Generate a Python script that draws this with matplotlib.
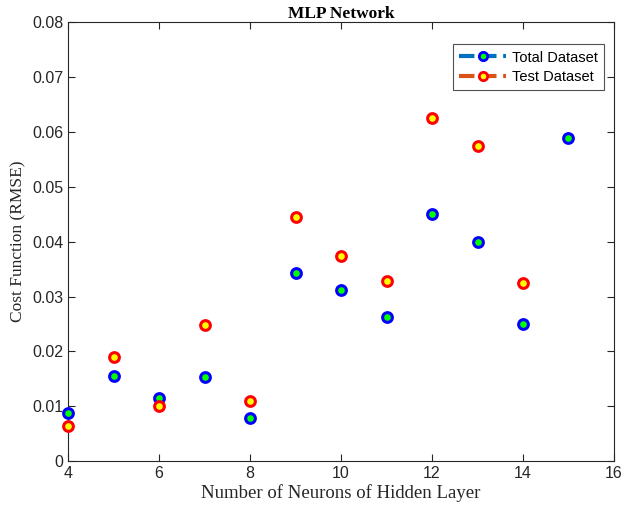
import matplotlib.pyplot as plt
from matplotlib.lines import Line2D

neurons = [4, 5, 6, 7, 8, 9, 10, 11, 12, 13, 14, 15]
total_rmse = [0.0087, 0.0155, 0.0115, 0.0153, 0.0078, 0.0343, 0.0311, 0.0262, 0.0451, 0.0400, 0.0250, 0.0589]
test_neurons = [4, 5, 6, 7, 8, 9, 10, 11, 12, 13, 14]
test_rmse = [0.0064, 0.0189, 0.0101, 0.0249, 0.0110, 0.0445, 0.0374, 0.0329, 0.0625, 0.0574, 0.0324]

xticks = [4, 6, 8, 10, 12, 14, 16]
yticks = [0, 0.01, 0.02, 0.03, 0.04, 0.05, 0.06, 0.07, 0.08]
ytick_labels = ['0', '0.01', '0.02', '0.03', '0.04', '0.05', '0.06', '0.07', '0.08']

fig = plt.figure(figsize=(6.31, 5.13), dpi=100)
ax = fig.add_axes([0.108, 0.101, 0.865, 0.856])

ax.plot(neurons, total_rmse, linestyle='none', marker='o', markersize=7, clip_on=False,
        markerfacecolor='#00ff00', markeredgecolor='#0000ff', markeredgewidth=2.2, zorder=3)
ax.plot(test_neurons, test_rmse, linestyle='none', marker='o', markersize=7, clip_on=False,
        markerfacecolor='#ffff00', markeredgecolor='#ff0000', markeredgewidth=2.2, zorder=3)

ax.set_xlim(4, 16)
ax.set_ylim(0, 0.08)
ax.set_xticks(xticks)
ax.set_yticks(yticks)
ax.set_yticklabels(ytick_labels)

axcol = '#262626'
for s in ax.spines.values():
    s.set_color(axcol)
    s.set_linewidth(0.8)
ax.tick_params(direction='in', top=True, right=True, colors=axcol, labelsize=11.5, length=5)
for lab in ax.get_xticklabels() + ax.get_yticklabels():
    lab.set_fontfamily('Liberation Sans')

ax.set_xlabel('Number of Neurons of Hidden Layer', fontfamily='Liberation Serif', fontsize=13.5,
              color=axcol, labelpad=2)
ax.set_ylabel('Cost Function (RMSE)', fontfamily='Liberation Serif', fontsize=12.5, color=axcol)
ax.set_title('MLP Network', fontfamily='Liberation Serif', fontsize=12.5, fontweight='bold', pad=3)

handles = [
    Line2D([], [], color='#0072bd', linestyle='--', linewidth=3, marker='o', markersize=6,
           markerfacecolor='#00ff00', markeredgecolor='#0000ff', markeredgewidth=2),
    Line2D([], [], color='#d95319', linestyle='--', linewidth=3, marker='o', markersize=6,
           markerfacecolor='#ffff00', markeredgecolor='#ff0000', markeredgewidth=2),
]
leg = ax.legend(handles, ['Total Dataset', 'Test Dataset'], loc='upper right',
                bbox_to_anchor=(0.99, 0.96), fancybox=False, edgecolor=axcol,
                prop={'family': 'Liberation Sans', 'size': 10.5}, handlelength=3.2,
                borderaxespad=0.3, labelspacing=0.35, handletextpad=0.4, borderpad=0.45)
leg.get_frame().set_linewidth(0.8)

fig.savefig('out.png', dpi=100)
